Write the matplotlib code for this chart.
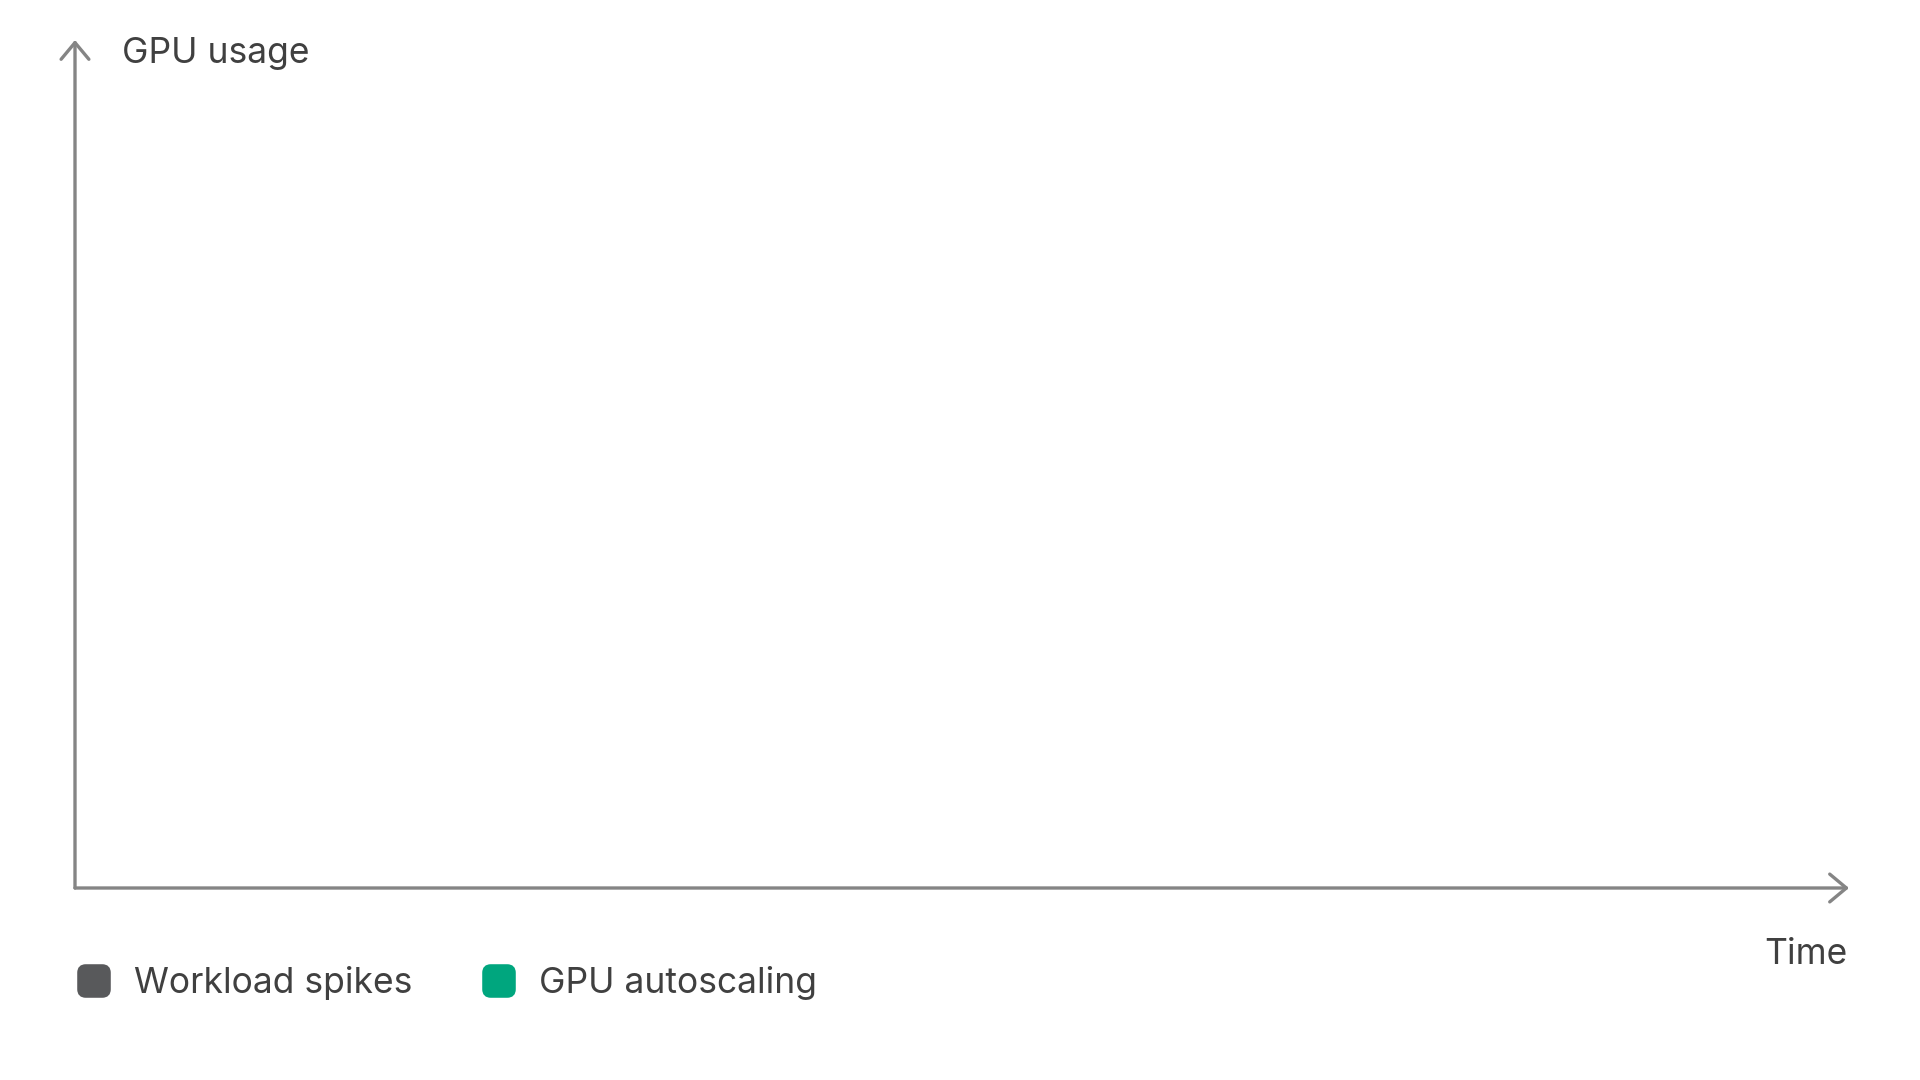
import matplotlib
matplotlib.use("Agg")
import matplotlib.pyplot as plt
from matplotlib.patches import FancyBboxPatch

# ---- data / labels ----
series_names = ["Workload spikes", "GPU autoscaling"]
series_colors = ["#58595b", "#00a67e"]
y_label = "GPU usage"
x_label = "Time"

W, H = 1920, 1080
plt.rcParams['font.family'] = ['Inter', 'DejaVu Sans']
fig = plt.figure(figsize=(W / 100, H / 100), dpi=100)
fig.patch.set_facecolor("white")

def fx(px):
    return px / W

def fy(py):
    return 1 - py / H

# axes area from the axis origin to the arrow tips
x0, x1 = 75, 1849
ytop, ybot = 40, 888
ax = fig.add_axes([fx(x0), fy(ybot), fx(x1) - fx(x0), (ybot - ytop) / H])
ax.set_xlim(0, 1)
ax.set_ylim(0, 1)
ax.axis("off")

axis_color = "#858585"
arrow_kw = dict(arrowstyle="->,head_length=0.6,head_width=0.5", lw=2.4,
                color=axis_color, mutation_scale=20, shrinkA=0, shrinkB=0,
                capstyle="round")
ax.annotate("", xy=(1, 0), xytext=(0, 0), xycoords="axes fraction",
            textcoords="axes fraction", arrowprops=arrow_kw)
ax.annotate("", xy=(0, 1), xytext=(0, 0), xycoords="axes fraction",
            textcoords="axes fraction", arrowprops=arrow_kw)

text_color = "#404040"
fs = 25.5
fig.text(fx(122), fy(63), y_label, fontsize=fs, color=text_color,
         ha="left", va="baseline")
fig.text(fx(1847), fy(964), x_label, fontsize=fs, color=text_color,
         ha="right", va="baseline")

# legend
sq_x = [76, 481]
txt_x = [134, 539]
for name, col, sx, tx in zip(series_names, series_colors, sq_x, txt_x):
    p = FancyBboxPatch((fx(sx + 4), fy(999 - 4)), fx(36 - 8), (36 - 8) / H,
                       boxstyle="round,pad=0,rounding_size=0.003",
                       transform=fig.transFigure, facecolor=col,
                       edgecolor=col, linewidth=4, mutation_aspect=W / H)
    fig.patches.append(p)
    fig.text(fx(tx), fy(993), name, fontsize=fs, color=text_color,
             ha="left", va="baseline")

fig.savefig("out.png", dpi=100, facecolor="white")
